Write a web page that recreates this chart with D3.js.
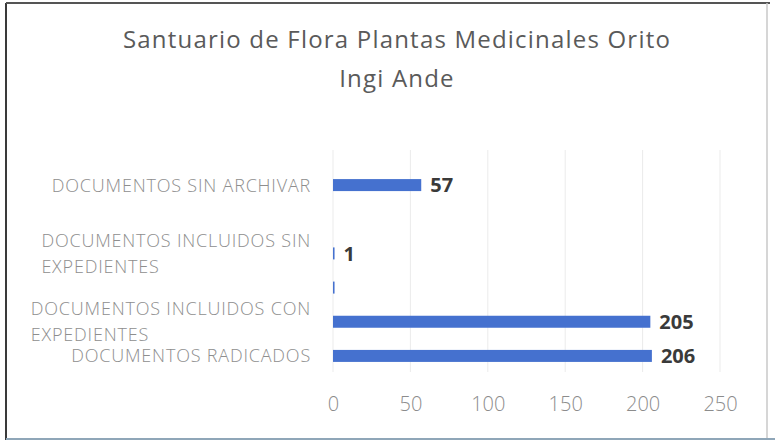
<!DOCTYPE html>
<html>
<head>
<meta charset="utf-8">
<script src="https://cdn.jsdelivr.net/npm/d3@7"></script>
<style>
  html, body { margin: 0; padding: 0; background: #fff; }
  svg { display: block; font-family: 'Open Sans', 'Liberation Sans', sans-serif; }
</style>
</head>
<body>
<svg id="chart" width="775" height="444"></svg>
<script>
// ── Data ─────────────────────────────────────────────
const titleLines = ['Santuario de Flora Plantas Medicinales Orito', 'Ingi Ande'];
// rows top to bottom; blank rows have no category label
const categories = [
  'DOCUMENTOS SIN ARCHIVAR',
  '',
  'DOCUMENTOS INCLUIDOS SIN EXPEDIENTES',
  '',
  'DOCUMENTOS INCLUIDOS CON EXPEDIENTES',
  'DOCUMENTOS RADICADOS'
];
const values = [57, null, 1, 1, 205, 206];
const showValue = [true, false, true, false, true, true];
const wrappedLabels = {
  'DOCUMENTOS INCLUIDOS SIN EXPEDIENTES': ['DOCUMENTOS INCLUIDOS SIN', 'EXPEDIENTES'],
  'DOCUMENTOS INCLUIDOS CON EXPEDIENTES': ['DOCUMENTOS INCLUIDOS CON', 'EXPEDIENTES']
};
const xTicks = [0, 50, 100, 150, 200, 250];

// ── Setup ────────────────────────────────────────────
const svg = d3.select('#chart');
const rows = categories.map((c, i) => ({ i, label: c, value: values[i], show: showValue[i] }));

const x = d3.scaleLinear().domain([0, 250]).range([333, 720]);
const y = d3.scaleBand().domain(rows.map(d => d.i)).range([168, 373]);

// frame
svg.append('line').attr('x1', 6).attr('x2', 6).attr('y1', 3).attr('y2', 440)
  .attr('stroke', '#3a3a3a').attr('stroke-width', 2);
svg.append('line').attr('x1', 6).attr('x2', 770).attr('y1', 3).attr('y2', 3)
  .attr('stroke', '#555').attr('stroke-width', 2);
svg.append('line').attr('x1', 767).attr('x2', 767).attr('y1', 3).attr('y2', 438)
  .attr('stroke', '#c8c8c8').attr('stroke-width', 1.5);
svg.append('line').attr('x1', 6).attr('x2', 775).attr('y1', 439).attr('y2', 439)
  .attr('stroke', '#8fa6b8').attr('stroke-width', 2);

// title
svg.append('g').selectAll('text')
  .data(titleLines)
  .join('text')
  .attr('x', 397)
  .attr('y', (d, i) => 48 + i * 39)
  .attr('text-anchor', 'middle')
  .attr('font-size', 24)
  .attr('letter-spacing', 1.2)
  .attr('fill', '#5a5a5a')
  .text(d => d);

// gridlines
svg.append('g').selectAll('line')
  .data(xTicks)
  .join('line')
  .attr('x1', d => x(d)).attr('x2', d => x(d))
  .attr('y1', 150).attr('y2', 372)
  .attr('stroke', '#ebebeb')
  .attr('stroke-width', 1);

// x axis labels
const xAxis = svg.append('g')
  .attr('transform', 'translate(0,372)')
  .call(d3.axisBottom(x).tickValues(xTicks).tickSize(0).tickPadding(25));
xAxis.select('.domain').remove();
xAxis.selectAll('text')
  .attr('font-family', "'Open Sans', sans-serif")
  .attr('font-size', 20)
  .attr('font-weight', 300)
  .attr('fill', '#8c8c8c');

// bars
const barH = 12;
const barRows = rows.filter(d => d.value != null);
svg.append('g').selectAll('rect')
  .data(barRows)
  .join('rect')
  .attr('x', x(0))
  .attr('y', d => y(d.i) + y.bandwidth() / 2 - barH / 2)
  .attr('width', d => Math.max(1.5, x(d.value) - x(0)))
  .attr('height', barH)
  .attr('fill', '#4571cf');

// value labels
svg.append('g').selectAll('text')
  .data(barRows.filter(d => d.show))
  .join('text')
  .attr('x', d => x(d.value) + 9)
  .attr('y', d => y(d.i) + y.bandwidth() / 2)
  .attr('dy', '0.36em')
  .attr('font-size', 20)
  .attr('font-weight', 700)
  .attr('fill', '#3a3a3a')
  .text(d => d.value);

// category labels (wrapped ones left-aligned inside a right-aligned block)
const labelRight = 311;
const lineH = 26;
svg.append('g').selectAll('g')
  .data(rows.filter(d => d.label))
  .join('g')
  .each(function (d) {
    const el = d3.select(this);
    const lines = wrappedLabels[d.label] || [d.label];
    const cy = y(d.i) + y.bandwidth() / 2;
    const texts = lines.map((line, k) => el.append('text')
      .attr('y', cy + (k - (lines.length - 1) / 2) * lineH)
      .attr('dy', '0.36em')
      .attr('font-size', 18)
      .attr('font-weight', 300)
      .attr('letter-spacing', 0.8)
      .attr('fill', '#8e8e8e')
      .text(line));
    const w = d3.max(texts, t => t.node().getComputedTextLength());
    texts.forEach(t => t.attr('x', labelRight - w));
  });
</script>
</body>
</html>
